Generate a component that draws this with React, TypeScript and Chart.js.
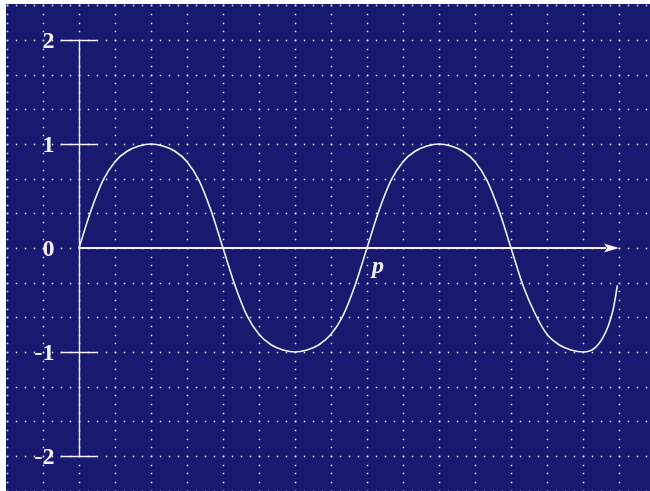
import { useEffect, useRef } from "react";
import { Chart, registerables } from "chart.js";

Chart.register(...registerables);

// Wave samples: phase in degrees along the horizontal axis, amplitude on the vertical axis.
const phaseDeg = [
  0, 15, 30, 45, 60, 75, 90, 105, 120, 135, 150, 165, 180,
  195, 210, 225, 240, 255, 270, 285, 300, 315, 330, 345, 360,
  375, 390, 405, 420, 435, 450, 465, 480, 495, 510, 525, 540,
  555, 570, 585, 600, 615, 630, 645, 655, 662, 668, 673,
];
const amplitude = [
  0, 0.36, 0.65, 0.83, 0.93, 0.98, 1.0, 0.98, 0.93, 0.83, 0.65, 0.36, 0,
  -0.36, -0.65, -0.83, -0.93, -0.98, -1.0, -0.98, -0.93, -0.83, -0.65, -0.36, 0,
  0.36, 0.65, 0.83, 0.93, 0.98, 1.0, 0.98, 0.93, 0.83, 0.65, 0.36, 0,
  -0.36, -0.63, -0.83, -0.93, -0.98, -1.0, -0.96, -0.86, -0.74, -0.58, -0.36,
];

// Vertical axis ticks and their labels.
const yTickValues = [2, 1, 0, -1, -2];
const yTickLabels = ["2", "1", "0", "-1", "-2"];
const xAxisMark = "p";

const NAVY = "#191970";
const INK = "#f2f2ff";
const GRID_STEP_DEG = 45;
const GRID_STEP_Y = 1 / 3;

const backdrop = {
  id: "backdrop",
  beforeDraw(chart: any) {
    const { ctx, width, height } = chart;
    ctx.save();
    ctx.fillStyle = NAVY;
    ctx.fillRect(0, 0, width, height);
    ctx.restore();
  },
};

const dotGrid = {
  id: "dotGrid",
  beforeDatasetsDraw(chart: any) {
    const xs = chart.scales.x;
    const ys = chart.scales.y;
    const ctx = chart.ctx;
    const { left, right, top, bottom } = chart.chartArea;
    ctx.save();
    ctx.fillStyle = "rgba(235,235,255,1)";
    const dot = (px: number, py: number) => {
      if (px < left - 0.5 || px > right || py < top - 0.5 || py > bottom) return;
      ctx.fillRect(Math.round(px) - 0.25, Math.round(py) - 0.25, 1.5, 1.5);
    };
    // vertical dotted lines
    for (let i = -3; i <= 16; i++) {
      const px = xs.getPixelForValue(i * GRID_STEP_DEG);
      for (let j = -32; j <= 32; j++) dot(px, ys.getPixelForValue((j * GRID_STEP_Y) / 4));
    }
    // horizontal dotted lines
    for (let k = -8; k <= 8; k++) {
      const py = ys.getPixelForValue(k * GRID_STEP_Y);
      for (let j = -12; j <= 64; j++) dot(xs.getPixelForValue((j * GRID_STEP_DEG) / 4), py);
    }
    ctx.restore();
  },
};

const axes = {
  id: "axes",
  afterDatasetsDraw(chart: any) {
    const xs = chart.scales.x;
    const ys = chart.scales.y;
    const ctx = chart.ctx;
    const x0 = Math.round(xs.getPixelForValue(0)) + 0.5;
    const y0 = Math.round(ys.getPixelForValue(0));
    ctx.save();
    ctx.strokeStyle = INK;
    ctx.fillStyle = INK;

    // vertical axis
    ctx.lineWidth = 1.4;
    ctx.beginPath();
    ctx.moveTo(x0, ys.getPixelForValue(yTickValues[0]));
    ctx.lineTo(x0, ys.getPixelForValue(yTickValues[yTickValues.length - 1]));
    ctx.stroke();

    // ticks and labels
    ctx.font = "bold 24px 'Liberation Serif', serif";
    ctx.textAlign = "right";
    ctx.textBaseline = "middle";
    yTickValues.forEach((v, i) => {
      const py = Math.round(ys.getPixelForValue(v)) + 0.5;
      if (v !== 0) {
        ctx.lineWidth = 1.3;
        ctx.beginPath();
        ctx.moveTo(x0 - 19, py);
        ctx.lineTo(x0 + 18, py);
        ctx.stroke();
      }
      ctx.fillText(yTickLabels[i], x0 - 25, py + 1);
    });

    // horizontal axis with arrow head
    const tip = xs.getPixelForValue(675);
    const base = tip - 15;
    ctx.lineWidth = 2;
    ctx.beginPath();
    ctx.moveTo(x0, y0);
    ctx.lineTo(base + 2, y0);
    ctx.stroke();
    ctx.beginPath();
    ctx.moveTo(tip, y0);
    ctx.lineTo(base, y0 - 4.5);
    ctx.lineTo(base + 3, y0);
    ctx.lineTo(base, y0 + 4.5);
    ctx.closePath();
    ctx.fill();

    // axis mark
    ctx.font = "italic bold 24px 'Liberation Serif', serif";
    ctx.textAlign = "left";
    ctx.textBaseline = "alphabetic";
    ctx.fillText(xAxisMark, xs.getPixelForValue(360) + 5, y0 + 25);
    ctx.restore();
  },
};

export default function App() {
  const canvasRef = useRef<HTMLCanvasElement | null>(null);

  useEffect(() => {
    const canvas = canvasRef.current;
    if (!canvas) return;
    const points = phaseDeg.map((x, i) => ({ x, y: amplitude[i] }));
    const chart = new Chart(canvas, {
      type: "line",
      data: {
        datasets: [
          {
            data: points,
            borderColor: INK,
            borderWidth: 1.6,
            pointRadius: 0,
            cubicInterpolationMode: "monotone",
            fill: false,
          },
        ],
      },
      options: {
        animation: false,
        responsive: false,
        maintainAspectRatio: false,
        layout: { padding: 0 },
        plugins: {
          legend: { display: false },
          tooltip: { enabled: false },
        },
        scales: {
          x: { type: "linear", display: false, min: -91.25, max: 713.75 },
          y: { type: "linear", display: false, min: -243 / 104, max: 244 / 104 },
        },
      },
      plugins: [backdrop, dotGrid, axes],
    });
    return () => chart.destroy();
  }, []);

  return (
    <div style={{ position: "absolute", left: 6, top: 4, width: 644, height: 487 }}>
      <canvas ref={canvasRef} width={644} height={487} style={{ display: "block", width: 644, height: 487 }} />
    </div>
  );
}
